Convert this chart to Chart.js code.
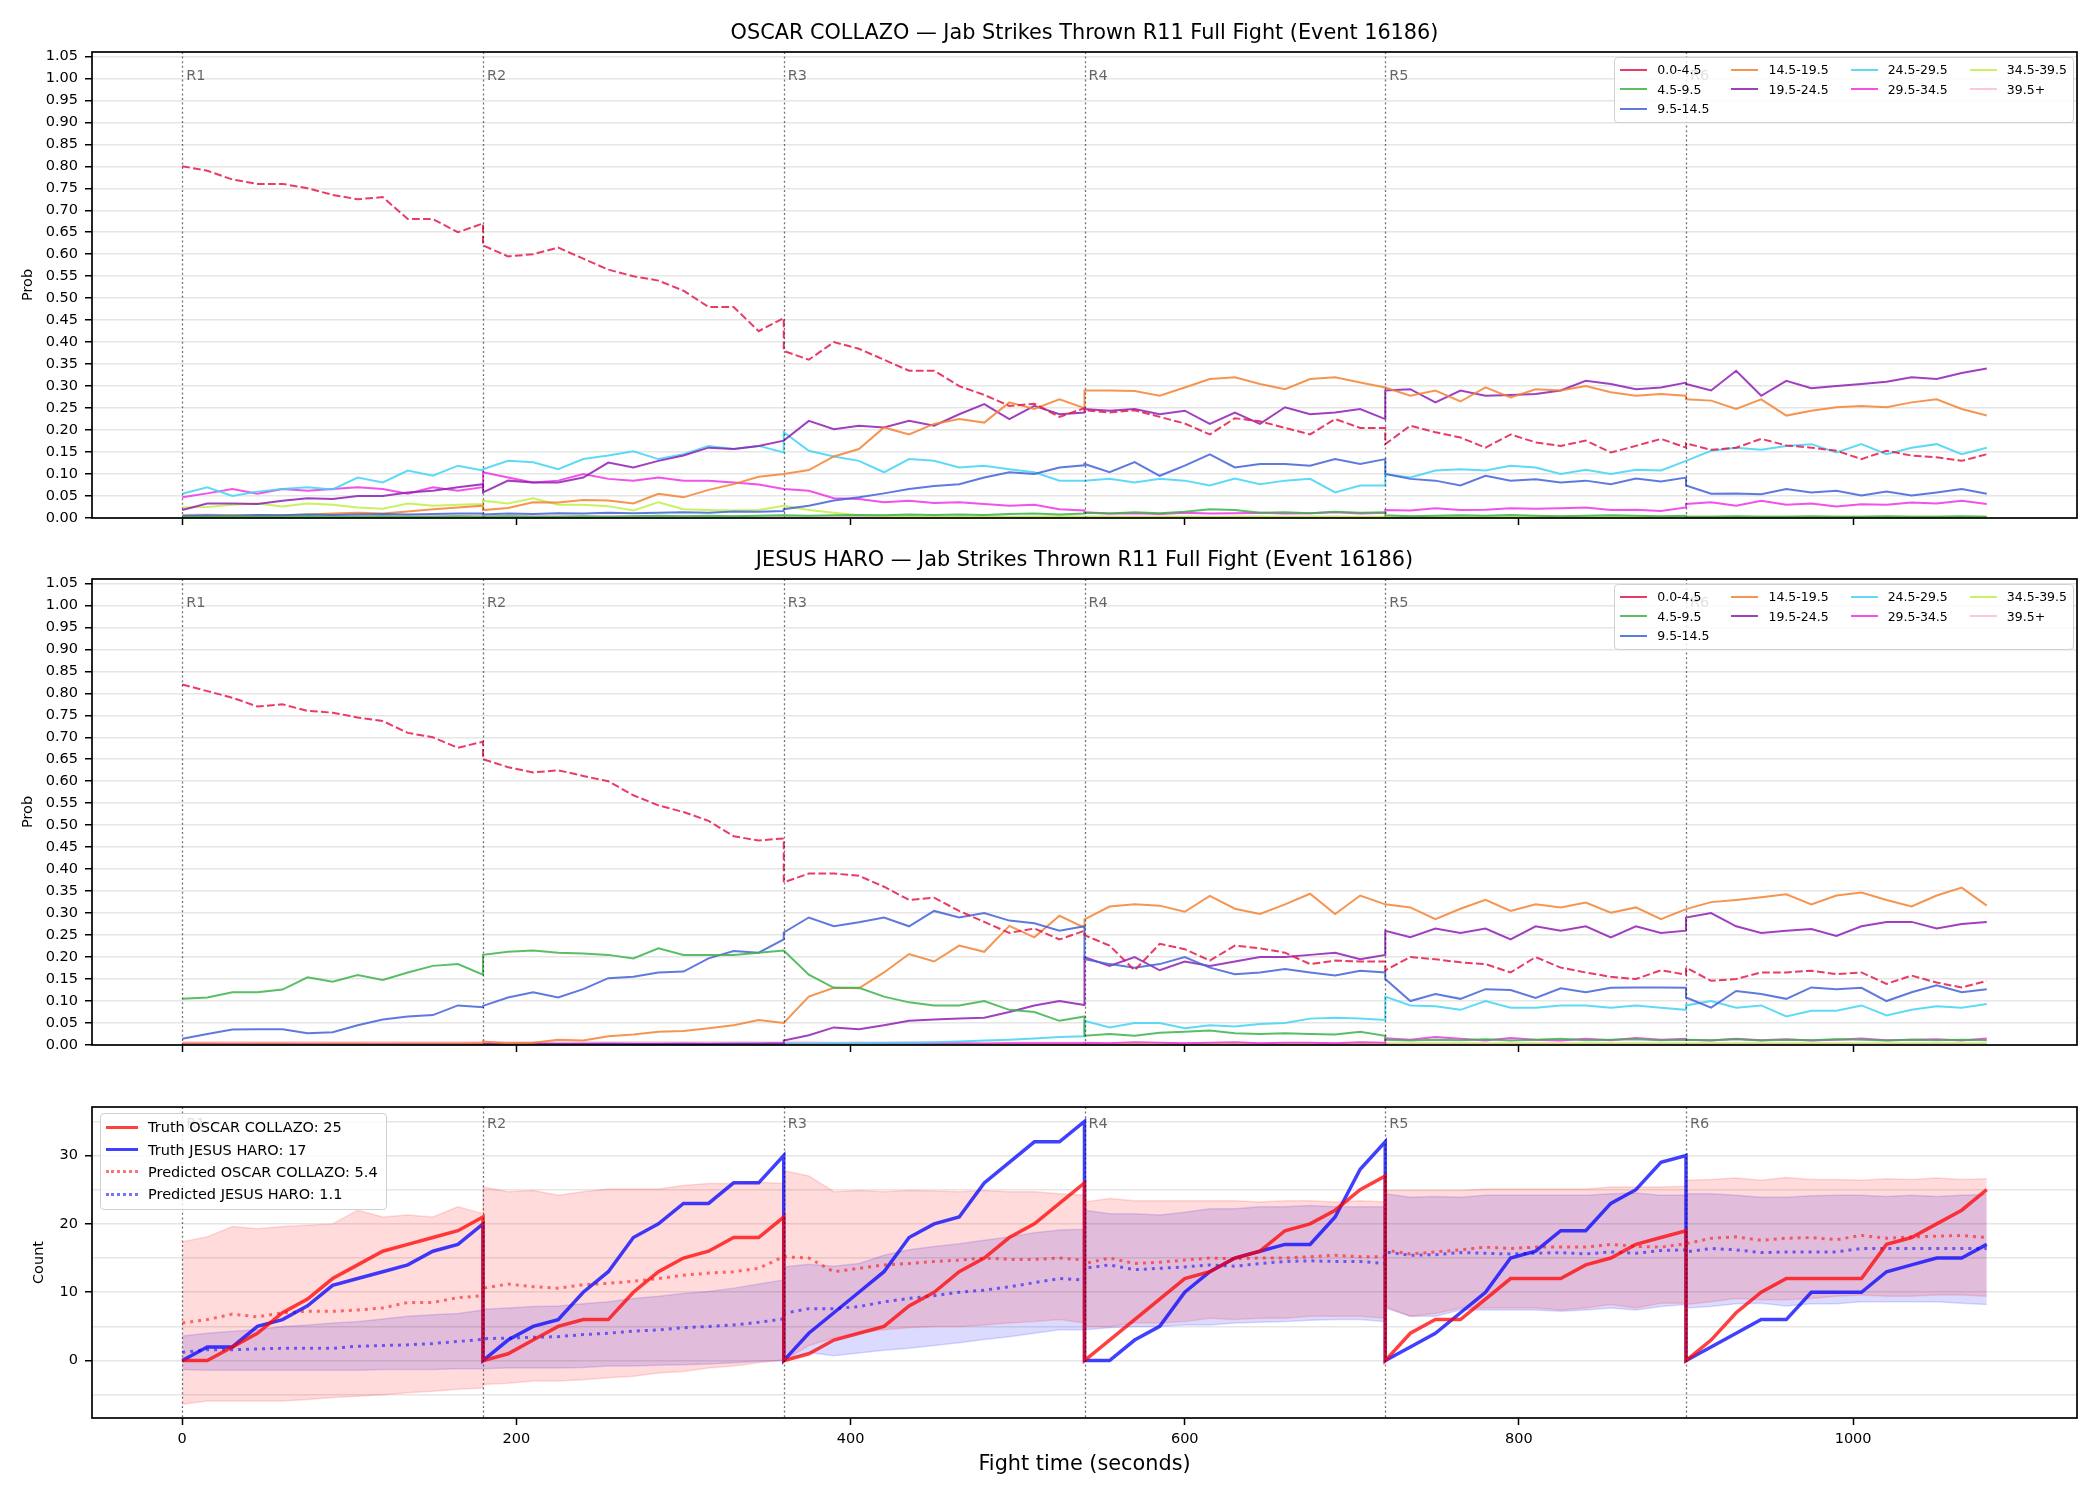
<!DOCTYPE html>
<html lang="en">
<head>
<meta charset="UTF-8">
<title>Jab Strikes Thrown R11 Full Fight</title>
<script src="https://cdn.jsdelivr.net/npm/chart.js@4.4.1/dist/chart.umd.min.js"></script>
<style>
  body { margin: 0; background: #fff; }
  #wrap { position: relative; width: 2100px; height: 1500px; font-family: 'DejaVu Sans', sans-serif; }
  #wrap canvas { position: absolute; left: 0; top: 0; }
  .legend { position: absolute; background: rgba(255,255,255,0.8); border: 1px solid #d0d0d0; border-radius: 4px; color: #000; }
  .binlegend { right: 26px; display: grid; grid-template-rows: repeat(3, 19.5px); column-gap: 22px; padding: 2px 6px 3px 5px; font-size: 12.5px; }
  .countlegend { left: 100px; top: 1113px; padding: 2px 8px 3px 5px; font-size: 14.5px; }
  .item { display: flex; align-items: center; white-space: nowrap; }
  .binlegend .item { height: 19.5px; }
  .countlegend .item { height: 22.4px; }
  .swatch { display: inline-block; margin-right: 10px; }
</style>
</head>
<body>
<div id="wrap">
  <canvas id="chartTop" width="2100" height="1500"></canvas>
  <canvas id="chartMid" width="2100" height="1500"></canvas>
  <canvas id="chartBottom" width="2100" height="1500"></canvas>
  <div id="legendTop" class="legend binlegend"></div>
  <div id="legendMid" class="legend binlegend"></div>
  <div id="legendBottom" class="legend countlegend"></div>
</div>
<script>
// time axis: each round sampled every 15 s, round ends repeated so the reset shows as a vertical step
const roundStarts = [0, 180, 360, 540, 720, 900];
const roundLabels = ['R1', 'R2', 'R3', 'R4', 'R5', 'R6'];
const sampleOffsets = [0, 15, 30, 45, 60, 75, 90, 105, 120, 135, 150, 165, 180];
const xTicks = [0, 200, 400, 600, 800, 1000];
const probTicks = [0, 0.05, 0.1, 0.15, 0.2, 0.25, 0.3, 0.35, 0.4, 0.45, 0.5, 0.55, 0.6, 0.65, 0.7, 0.75, 0.8, 0.85, 0.9, 0.95, 1, 1.05];
const countTicks = [-5, 0, 5, 10, 15, 20, 25, 30, 35];
const countLabelTicks = [0, 10, 20, 30];

const bins = ['0.0-4.5', '4.5-9.5', '9.5-14.5', '14.5-19.5', '19.5-24.5', '24.5-29.5', '29.5-34.5', '34.5-39.5', '39.5+'];
const binColors = ['rgba(230,25,75,0.85)', 'rgba(60,180,75,0.85)', 'rgba(67,99,216,0.85)', 'rgba(245,130,49,0.85)',
  'rgba(145,30,180,0.85)', 'rgba(66,212,244,0.85)', 'rgba(240,50,230,0.85)', 'rgba(191,239,69,0.85)', 'rgba(250,190,212,0.85)'];

// OSCAR COLLAZO probabilities per bin (one row per round)
const ocBin0 = [
  0.80, 0.79, 0.77, 0.76, 0.76, 0.75, 0.735, 0.725, 0.73, 0.68, 0.68, 0.65, 0.67,
  0.62, 0.595, 0.60, 0.615, 0.59, 0.565, 0.55, 0.54, 0.517, 0.48, 0.48, 0.425, 0.455,
  0.38, 0.36, 0.40, 0.385, 0.36, 0.335, 0.335, 0.30, 0.28, 0.255, 0.26, 0.23, 0.25,
  0.245, 0.24, 0.245, 0.23, 0.215, 0.19, 0.227, 0.22, 0.205, 0.19, 0.225, 0.205, 0.205,
  0.168, 0.21, 0.195, 0.183, 0.16, 0.19, 0.172, 0.164, 0.176, 0.149, 0.164, 0.18, 0.16,
  0.17, 0.155, 0.16, 0.18, 0.165, 0.16, 0.153, 0.134, 0.153, 0.142, 0.138, 0.13, 0.145];
const ocBin1 = [
  0.003, 0.003, 0.004, 0.003, 0.003, 0.004, 0.003, 0.003, 0.004, 0.003, 0.003, 0.004, 0.003,
  0.003, 0.004, 0.003, 0.003, 0.004, 0.003, 0.004, 0.005, 0.004, 0.005, 0.004, 0.005, 0.006,
  0.006, 0.005, 0.006, 0.007, 0.006, 0.008, 0.007, 0.008, 0.007, 0.009, 0.010, 0.008, 0.010,
  0.012, 0.010, 0.013, 0.011, 0.014, 0.020, 0.018, 0.012, 0.013, 0.011, 0.014, 0.012, 0.013,
  0.006, 0.004, 0.005, 0.006, 0.005, 0.007, 0.005, 0.004, 0.005, 0.006, 0.005, 0.004, 0.005,
  0.003, 0.003, 0.004, 0.003, 0.003, 0.004, 0.003, 0.003, 0.004, 0.003, 0.003, 0.004, 0.003];
const ocBin2 = [
  0.005, 0.006, 0.005, 0.007, 0.006, 0.008, 0.007, 0.008, 0.009, 0.008, 0.009, 0.010, 0.010,
  0.008, 0.010, 0.009, 0.011, 0.010, 0.012, 0.011, 0.012, 0.013, 0.012, 0.015, 0.014, 0.016,
  0.020, 0.028, 0.040, 0.047, 0.056, 0.066, 0.073, 0.077, 0.092, 0.104, 0.100, 0.115, 0.120,
  0.123, 0.104, 0.127, 0.096, 0.119, 0.145, 0.115, 0.123, 0.123, 0.119, 0.134, 0.123, 0.134,
  0.100, 0.089, 0.085, 0.074, 0.096, 0.085, 0.088, 0.081, 0.085, 0.077, 0.090, 0.083, 0.092,
  0.074, 0.055, 0.056, 0.054, 0.066, 0.058, 0.062, 0.051, 0.060, 0.051, 0.058, 0.066, 0.055];
const ocBin3 = [
  0.005, 0.005, 0.006, 0.005, 0.006, 0.008, 0.010, 0.012, 0.010, 0.015, 0.020, 0.024, 0.028,
  0.018, 0.023, 0.036, 0.035, 0.041, 0.040, 0.033, 0.055, 0.047, 0.064, 0.077, 0.094, 0.100,
  0.100, 0.109, 0.140, 0.157, 0.206, 0.190, 0.214, 0.225, 0.217, 0.263, 0.248, 0.270, 0.250,
  0.290, 0.290, 0.289, 0.278, 0.297, 0.316, 0.320, 0.305, 0.293, 0.316, 0.320, 0.308, 0.297,
  0.297, 0.278, 0.290, 0.265, 0.297, 0.274, 0.293, 0.290, 0.300, 0.286, 0.278, 0.282, 0.278,
  0.270, 0.267, 0.248, 0.270, 0.233, 0.244, 0.252, 0.255, 0.252, 0.263, 0.270, 0.248, 0.233];
const ocBin4 = [
  0.018, 0.033, 0.033, 0.032, 0.039, 0.045, 0.043, 0.050, 0.050, 0.058, 0.062, 0.070, 0.077,
  0.058, 0.085, 0.081, 0.081, 0.092, 0.126, 0.115, 0.130, 0.142, 0.160, 0.157, 0.164, 0.176,
  0.176, 0.221, 0.202, 0.210, 0.206, 0.221, 0.210, 0.236, 0.259, 0.225, 0.255, 0.236, 0.240,
  0.248, 0.244, 0.248, 0.236, 0.244, 0.214, 0.240, 0.214, 0.252, 0.236, 0.240, 0.248, 0.225,
  0.290, 0.293, 0.263, 0.290, 0.278, 0.280, 0.282, 0.290, 0.312, 0.305, 0.293, 0.297, 0.308,
  0.305, 0.290, 0.335, 0.278, 0.312, 0.295, 0.300, 0.305, 0.310, 0.320, 0.316, 0.330, 0.340];
const ocBin5 = [
  0.055, 0.070, 0.050, 0.060, 0.066, 0.070, 0.065, 0.092, 0.081, 0.108, 0.096, 0.119, 0.108,
  0.111, 0.130, 0.127, 0.111, 0.134, 0.142, 0.152, 0.134, 0.145, 0.164, 0.157, 0.164, 0.149,
  0.195, 0.153, 0.140, 0.130, 0.104, 0.134, 0.130, 0.115, 0.119, 0.111, 0.104, 0.085, 0.085,
  0.085, 0.089, 0.081, 0.089, 0.085, 0.074, 0.090, 0.077, 0.085, 0.089, 0.058, 0.074, 0.074,
  0.100, 0.092, 0.108, 0.111, 0.108, 0.119, 0.115, 0.100, 0.110, 0.100, 0.110, 0.108, 0.130,
  0.130, 0.153, 0.160, 0.155, 0.164, 0.168, 0.149, 0.168, 0.145, 0.160, 0.168, 0.145, 0.160];
const ocBin6 = [
  0.047, 0.056, 0.066, 0.055, 0.066, 0.062, 0.066, 0.070, 0.066, 0.055, 0.070, 0.062, 0.070,
  0.104, 0.092, 0.081, 0.085, 0.100, 0.089, 0.085, 0.092, 0.085, 0.085, 0.081, 0.076, 0.066,
  0.066, 0.062, 0.045, 0.043, 0.036, 0.039, 0.034, 0.036, 0.032, 0.028, 0.030, 0.020, 0.017,
  0.013, 0.010, 0.011, 0.009, 0.012, 0.010, 0.011, 0.012, 0.010, 0.011, 0.013, 0.010, 0.012,
  0.018, 0.017, 0.022, 0.018, 0.019, 0.022, 0.021, 0.022, 0.024, 0.018, 0.019, 0.016, 0.024,
  0.032, 0.036, 0.028, 0.039, 0.030, 0.033, 0.026, 0.031, 0.030, 0.035, 0.033, 0.039, 0.032];
const ocBin7 = [
  0.024, 0.025, 0.030, 0.033, 0.026, 0.033, 0.030, 0.024, 0.021, 0.033, 0.028, 0.030, 0.032,
  0.039, 0.033, 0.045, 0.030, 0.030, 0.027, 0.017, 0.036, 0.020, 0.018, 0.017, 0.018, 0.028,
  0.028, 0.018, 0.012, 0.006, 0.005, 0.004, 0.004, 0.003, 0.004, 0.003, 0.003, 0.004, 0.003,
  0.003, 0.003, 0.002, 0.003, 0.003, 0.002, 0.003, 0.003, 0.002, 0.003, 0.003, 0.002, 0.003,
  0.003, 0.003, 0.002, 0.003, 0.003, 0.002, 0.003, 0.003, 0.002, 0.003, 0.003, 0.002, 0.003,
  0.003, 0.003, 0.002, 0.003, 0.003, 0.002, 0.003, 0.003, 0.002, 0.003, 0.003, 0.002, 0.003];
const ocBin8 = [
  0.007, 0.008, 0.006, 0.007, 0.006, 0.005, 0.006, 0.005, 0.005, 0.006, 0.005, 0.005, 0.006,
  0.005, 0.004, 0.005, 0.004, 0.004, 0.005, 0.004, 0.004, 0.004, 0.003, 0.004, 0.003, 0.004,
  0.003, 0.003, 0.003, 0.003, 0.003, 0.003, 0.003, 0.003, 0.003, 0.003, 0.003, 0.003, 0.003,
  0.003, 0.003, 0.003, 0.003, 0.003, 0.003, 0.003, 0.003, 0.003, 0.003, 0.003, 0.003, 0.003,
  0.003, 0.003, 0.003, 0.003, 0.003, 0.003, 0.003, 0.003, 0.003, 0.003, 0.003, 0.003, 0.003,
  0.003, 0.003, 0.003, 0.003, 0.003, 0.003, 0.003, 0.003, 0.003, 0.003, 0.003, 0.003, 0.003];

// JESUS HARO probabilities per bin
const jhBin0 = [
  0.82, 0.805, 0.79, 0.77, 0.775, 0.76, 0.756, 0.745, 0.737, 0.71, 0.70, 0.676, 0.69,
  0.65, 0.632, 0.62, 0.625, 0.612, 0.60, 0.568, 0.545, 0.53, 0.51, 0.475, 0.465, 0.47,
  0.37, 0.39, 0.39, 0.385, 0.36, 0.33, 0.335, 0.305, 0.28, 0.255, 0.265, 0.24, 0.26,
  0.25, 0.226, 0.17, 0.23, 0.218, 0.192, 0.226, 0.22, 0.21, 0.184, 0.192, 0.19, 0.19,
  0.17, 0.20, 0.195, 0.188, 0.184, 0.165, 0.20, 0.176, 0.165, 0.155, 0.15, 0.17, 0.16,
  0.176, 0.146, 0.15, 0.165, 0.165, 0.169, 0.161, 0.165, 0.139, 0.158, 0.142, 0.131, 0.146];
const jhBin1 = [
  0.105, 0.108, 0.120, 0.120, 0.126, 0.154, 0.144, 0.159, 0.148, 0.165, 0.180, 0.184, 0.160,
  0.205, 0.212, 0.215, 0.210, 0.208, 0.205, 0.197, 0.220, 0.205, 0.205, 0.205, 0.210, 0.215,
  0.215, 0.160, 0.130, 0.130, 0.110, 0.097, 0.090, 0.090, 0.100, 0.080, 0.075, 0.055, 0.065,
  0.021, 0.025, 0.021, 0.028, 0.030, 0.033, 0.027, 0.025, 0.027, 0.025, 0.024, 0.030, 0.021,
  0.012, 0.010, 0.012, 0.011, 0.013, 0.010, 0.012, 0.014, 0.011, 0.012, 0.013, 0.011, 0.012,
  0.012, 0.011, 0.013, 0.010, 0.012, 0.011, 0.013, 0.012, 0.010, 0.012, 0.011, 0.012, 0.011];
const jhBin2 = [
  0.014, 0.025, 0.035, 0.036, 0.036, 0.027, 0.029, 0.045, 0.058, 0.065, 0.068, 0.090, 0.086,
  0.089, 0.108, 0.120, 0.108, 0.127, 0.152, 0.155, 0.165, 0.167, 0.197, 0.214, 0.210, 0.240,
  0.256, 0.290, 0.270, 0.279, 0.290, 0.270, 0.305, 0.290, 0.300, 0.283, 0.277, 0.260, 0.270,
  0.195, 0.184, 0.176, 0.184, 0.200, 0.176, 0.161, 0.165, 0.173, 0.165, 0.158, 0.169, 0.165,
  0.150, 0.100, 0.116, 0.105, 0.127, 0.125, 0.107, 0.129, 0.120, 0.130, 0.131, 0.131, 0.130,
  0.108, 0.085, 0.123, 0.116, 0.105, 0.131, 0.127, 0.130, 0.100, 0.120, 0.136, 0.120, 0.127];
const jhBin3 = [
  0.003, 0.003, 0.002, 0.003, 0.003, 0.002, 0.003, 0.003, 0.002, 0.003, 0.003, 0.003, 0.004,
  0.008, 0.004, 0.005, 0.012, 0.010, 0.020, 0.024, 0.030, 0.032, 0.038, 0.045, 0.057, 0.050,
  0.050, 0.110, 0.130, 0.129, 0.165, 0.207, 0.190, 0.226, 0.212, 0.271, 0.245, 0.294, 0.267,
  0.286, 0.315, 0.320, 0.317, 0.303, 0.339, 0.310, 0.298, 0.320, 0.344, 0.298, 0.340, 0.320,
  0.320, 0.313, 0.286, 0.310, 0.330, 0.305, 0.320, 0.313, 0.324, 0.301, 0.313, 0.286, 0.309,
  0.309, 0.325, 0.330, 0.336, 0.343, 0.320, 0.340, 0.347, 0.330, 0.315, 0.340, 0.358, 0.317];
const jhBin4 = [
  0.002, 0.002, 0.002, 0.002, 0.002, 0.002, 0.002, 0.002, 0.002, 0.002, 0.002, 0.002, 0.002,
  0.002, 0.002, 0.003, 0.002, 0.002, 0.003, 0.002, 0.002, 0.003, 0.002, 0.003, 0.003, 0.004,
  0.010, 0.022, 0.040, 0.036, 0.045, 0.055, 0.058, 0.060, 0.062, 0.075, 0.090, 0.100, 0.091,
  0.200, 0.180, 0.200, 0.170, 0.190, 0.180, 0.190, 0.200, 0.200, 0.205, 0.210, 0.195, 0.205,
  0.260, 0.245, 0.265, 0.255, 0.265, 0.240, 0.270, 0.260, 0.270, 0.245, 0.270, 0.255, 0.260,
  0.290, 0.300, 0.270, 0.255, 0.260, 0.264, 0.248, 0.270, 0.280, 0.280, 0.265, 0.275, 0.280];
const jhBin5 = [
  0.002, 0.002, 0.002, 0.002, 0.002, 0.002, 0.002, 0.002, 0.002, 0.002, 0.002, 0.002, 0.002,
  0.002, 0.002, 0.002, 0.002, 0.002, 0.002, 0.002, 0.002, 0.002, 0.002, 0.003, 0.003, 0.003,
  0.003, 0.003, 0.004, 0.004, 0.005, 0.005, 0.006, 0.008, 0.010, 0.012, 0.015, 0.018, 0.020,
  0.055, 0.040, 0.050, 0.050, 0.038, 0.045, 0.042, 0.048, 0.050, 0.060, 0.062, 0.060, 0.057,
  0.110, 0.090, 0.088, 0.080, 0.100, 0.085, 0.085, 0.090, 0.090, 0.085, 0.090, 0.085, 0.080,
  0.090, 0.100, 0.085, 0.090, 0.065, 0.078, 0.078, 0.090, 0.067, 0.080, 0.088, 0.085, 0.093];
const jhBin6 = [
  0.003, 0.003, 0.003, 0.003, 0.003, 0.003, 0.003, 0.003, 0.003, 0.003, 0.003, 0.003, 0.003,
  0.003, 0.003, 0.003, 0.003, 0.003, 0.003, 0.003, 0.003, 0.003, 0.003, 0.003, 0.003, 0.003,
  0.003, 0.003, 0.003, 0.003, 0.003, 0.003, 0.003, 0.004, 0.003, 0.004, 0.004, 0.004, 0.004,
  0.005, 0.004, 0.006, 0.005, 0.004, 0.005, 0.006, 0.004, 0.005, 0.005, 0.004, 0.006, 0.005,
  0.015, 0.012, 0.018, 0.014, 0.010, 0.016, 0.012, 0.010, 0.014, 0.011, 0.016, 0.012, 0.014,
  0.012, 0.010, 0.014, 0.011, 0.013, 0.010, 0.012, 0.015, 0.011, 0.012, 0.013, 0.010, 0.015];
const jhBin7 = [
  0.002, 0.002, 0.002, 0.002, 0.002, 0.002, 0.002, 0.002, 0.002, 0.002, 0.002, 0.002, 0.002,
  0.002, 0.002, 0.002, 0.002, 0.002, 0.002, 0.002, 0.002, 0.002, 0.002, 0.002, 0.002, 0.002,
  0.002, 0.002, 0.002, 0.002, 0.002, 0.002, 0.002, 0.002, 0.002, 0.002, 0.002, 0.002, 0.002,
  0.002, 0.002, 0.002, 0.002, 0.002, 0.002, 0.002, 0.002, 0.002, 0.002, 0.002, 0.002, 0.002,
  0.002, 0.002, 0.002, 0.002, 0.002, 0.002, 0.002, 0.002, 0.002, 0.002, 0.002, 0.002, 0.002,
  0.002, 0.002, 0.002, 0.002, 0.002, 0.002, 0.002, 0.002, 0.002, 0.002, 0.002, 0.002, 0.002];
const jhBin8 = [
  0.006, 0.006, 0.006, 0.006, 0.006, 0.006, 0.006, 0.006, 0.006, 0.006, 0.006, 0.006, 0.006,
  0.006, 0.006, 0.006, 0.006, 0.006, 0.006, 0.006, 0.006, 0.006, 0.006, 0.006, 0.006, 0.006,
  0.006, 0.006, 0.005, 0.006, 0.005, 0.006, 0.005, 0.005, 0.005, 0.005, 0.005, 0.005, 0.005,
  0.004, 0.004, 0.004, 0.004, 0.004, 0.004, 0.004, 0.004, 0.004, 0.004, 0.004, 0.004, 0.004,
  0.004, 0.004, 0.004, 0.004, 0.004, 0.004, 0.004, 0.004, 0.004, 0.004, 0.004, 0.004, 0.004,
  0.004, 0.004, 0.004, 0.004, 0.004, 0.004, 0.004, 0.004, 0.004, 0.004, 0.004, 0.004, 0.004];

// cumulative counts per round (truth and predicted) with prediction bands
const truthCollazo = [
  0, 0, 2, 4, 7, 9, 12, 14, 16, 17, 18, 19, 21,
  0, 1, 3, 5, 6, 6, 10, 13, 15, 16, 18, 18, 21,
  0, 1, 3, 4, 5, 8, 10, 13, 15, 18, 20, 23, 26,
  0, 3, 6, 9, 12, 13, 15, 16, 19, 20, 22, 25, 27,
  0, 4, 6, 6, 9, 12, 12, 12, 14, 15, 17, 18, 19,
  0, 3, 7, 10, 12, 12, 12, 12, 17, 18, 20, 22, 25];
const truthHaro = [
  0, 2, 2, 5, 6, 8, 11, 12, 13, 14, 16, 17, 20,
  0, 3, 5, 6, 10, 13, 18, 20, 23, 23, 26, 26, 30,
  0, 4, 7, 10, 13, 18, 20, 21, 26, 29, 32, 32, 35,
  0, 0, 3, 5, 10, 13, 15, 16, 17, 17, 21, 28, 32,
  0, 2, 4, 7, 10, 15, 16, 19, 19, 23, 25, 29, 30,
  0, 2, 4, 6, 6, 10, 10, 10, 13, 14, 15, 15, 17];
const predCollazo = [
  5.5, 6.0, 6.8, 6.4, 7.0, 7.2, 7.2, 7.4, 7.7, 8.5, 8.5, 9.2, 9.5,
  10.6, 11.2, 10.8, 10.6, 11.1, 11.3, 11.6, 12.0, 12.5, 12.8, 13.0, 13.5, 15.2,
  15.2, 15.0, 13.0, 13.5, 14.0, 14.2, 14.5, 14.7, 15.0, 14.8, 14.8, 15.0, 14.7,
  14.2, 15.0, 14.2, 14.4, 14.7, 15.0, 14.9, 15.0, 15.0, 15.2, 15.4, 15.2, 15.2,
  16.2, 15.6, 15.9, 16.2, 16.6, 16.4, 16.6, 16.6, 16.6, 17.0, 16.7, 16.6, 17.1,
  17.1, 17.9, 18.1, 17.6, 17.9, 18.0, 17.7, 18.3, 17.9, 18.1, 18.2, 18.3, 18.0];
const predHaro = [
  1.2, 1.6, 1.6, 1.7, 1.8, 1.8, 1.8, 2.1, 2.2, 2.3, 2.5, 2.8, 3.1,
  3.2, 3.3, 3.4, 3.5, 3.8, 4.0, 4.3, 4.5, 4.8, 5.0, 5.2, 5.6, 6.1,
  6.9, 7.6, 7.6, 7.9, 8.6, 9.1, 9.5, 10.0, 10.3, 10.8, 11.4, 12.0, 11.8,
  13.5, 14.0, 13.3, 13.5, 13.7, 14.0, 13.8, 14.2, 14.5, 14.6, 14.5, 14.5, 14.2,
  15.9, 15.4, 15.5, 15.8, 15.7, 15.6, 15.7, 15.8, 15.6, 15.9, 15.7, 16.1, 16.2,
  15.9, 16.4, 16.2, 15.8, 15.9, 15.9, 15.9, 16.4, 16.4, 16.4, 16.4, 16.4, 16.4];
const bandCollazoHi = [
  17.4, 18.1, 19.6, 19.3, 19.6, 19.8, 20.0, 22.0, 21.0, 21.3, 21.0, 22.5, 21.5,
  25.4, 24.7, 24.9, 24.2, 24.7, 25.1, 25.1, 25.1, 25.6, 25.9, 25.9, 26.1, 25.9,
  27.8, 27.0, 24.7, 24.9, 24.7, 24.9, 24.8, 24.7, 24.9, 24.7, 24.7, 24.4, 24.2,
  23.2, 23.7, 23.4, 23.4, 23.4, 23.4, 23.4, 23.2, 23.4, 23.4, 23.2, 23.4, 23.2,
  24.9, 24.9, 24.9, 24.9, 25.1, 25.1, 25.1, 25.1, 25.1, 25.4, 25.4, 25.4, 25.5,
  26.4, 26.5, 26.7, 26.4, 26.8, 26.5, 26.5, 26.4, 26.6, 26.5, 26.7, 26.5, 26.6];
const bandCollazoLo = [
  -6.4, -5.9, -5.9, -5.9, -5.9, -5.7, -5.4, -5.2, -5.0, -4.7, -4.5, -4.2, -4.0,
  -3.5, -3.3, -3.0, -3.0, -2.8, -2.5, -2.3, -1.8, -1.6, -1.1, -0.8, -0.3, 0.1,
  0.0, 2.2, 3.3, 4.0, 4.5, 4.8, 5.0, 5.0, 5.2, 5.5, 5.7, 6.0, 5.5,
  5.0, 5.0, 5.5, 5.5, 5.7, 6.2, 6.0, 6.2, 6.2, 6.5, 6.5, 6.5, 6.2,
  7.9, 6.5, 6.9, 7.7, 7.7, 7.7, 7.7, 7.4, 7.7, 8.2, 7.7, 8.4, 8.4,
  8.2, 8.6, 9.1, 8.9, 8.9, 9.1, 9.4, 9.6, 9.4, 9.4, 9.6, 9.6, 9.4];
const bandHaroHi = [
  3.6, 4.0, 4.3, 4.5, 5.0, 5.2, 5.5, 5.7, 6.1, 6.5, 6.7, 6.9, 7.4,
  7.5, 7.7, 7.9, 8.0, 8.3, 8.6, 9.1, 9.4, 9.8, 10.1, 10.6, 11.2, 11.8,
  13.7, 14.1, 13.8, 14.2, 15.4, 16.2, 16.7, 17.1, 17.6, 18.1, 18.7, 19.1, 19.2,
  22.0, 21.5, 21.5, 21.3, 21.7, 22.2, 22.2, 22.5, 22.5, 22.7, 22.5, 22.5, 22.5,
  24.4, 23.9, 24.0, 23.9, 24.2, 24.2, 24.2, 24.2, 24.2, 24.4, 24.5, 24.2, 24.2,
  24.4, 24.4, 24.2, 23.9, 23.9, 24.1, 24.2, 24.2, 24.0, 24.2, 24.0, 24.2, 24.3];
const bandHaroLo = [
  -1.3, -1.4, -1.4, -1.4, -1.4, -1.4, -1.4, -1.4, -1.3, -1.3, -1.3, -1.2, -1.2,
  -1.2, -1.1, -1.1, -1.1, -1.0, -0.8, -0.8, -0.7, -0.6, -0.5, -0.3, -0.1, 0.0,
  0.0, 1.2, 0.7, 1.1, 1.5, 1.8, 2.2, 2.6, 3.1, 3.5, 4.0, 4.5, 4.5,
  4.5, 4.8, 5.0, 5.0, 5.2, 5.2, 5.5, 5.6, 5.7, 5.9, 6.0, 6.0, 5.7,
  7.7, 6.5, 6.5, 7.4, 7.4, 7.4, 7.4, 7.2, 7.4, 7.7, 7.4, 7.9, 8.2,
  7.7, 7.9, 8.3, 8.4, 8.0, 8.3, 8.3, 8.6, 8.6, 8.6, 8.6, 8.4, 8.2];

const fightTime = roundStarts.flatMap(r => sampleOffsets.map(o => r + o));
const pts = vals => vals.map((v, i) => ({ x: fightTime[i], y: v }));

Chart.defaults.font.family = "'DejaVu Sans', sans-serif";
Chart.defaults.color = '#000';

// round separators, round labels, panel frame and title
const roundMarks = {
  id: 'roundMarks',
  afterDatasetsDraw(chart, args, opts) {
    const { ctx, chartArea: a, scales: { x, y } } = chart;
    ctx.save();
    ctx.beginPath();
    ctx.rect(a.left, a.top, a.width, a.height);
    ctx.clip();
    ctx.strokeStyle = 'rgba(0,0,0,0.55)';
    ctx.lineWidth = 1.3;
    ctx.setLineDash([2, 2.6]);
    roundStarts.forEach(t => {
      const px = Math.round(x.getPixelForValue(t)) + 0.5;
      ctx.beginPath();
      ctx.moveTo(px, a.top);
      ctx.lineTo(px, a.bottom);
      ctx.stroke();
    });
    ctx.setLineDash([]);
    ctx.fillStyle = 'rgba(0,0,0,0.6)';
    ctx.font = "14.5px 'DejaVu Sans'";
    ctx.textBaseline = 'middle';
    roundStarts.forEach((t, i) => {
      ctx.fillText(roundLabels[i], x.getPixelForValue(t) + 4, y.getPixelForValue(opts.labelY));
    });
    ctx.restore();

    ctx.save();
    ctx.strokeStyle = '#000';
    ctx.lineWidth = 1.7;
    ctx.strokeRect(a.left, a.top, a.width, a.height);
    if (opts.title) {
      ctx.fillStyle = '#000';
      ctx.font = "20.8px 'DejaVu Sans'";
      ctx.textAlign = 'center';
      ctx.textBaseline = 'middle';
      ctx.fillText(opts.title, (a.left + a.right) / 2, a.top - 18);
    }
    ctx.restore();
  }
};

function xScale(height, showLabels, title) {
  return {
    type: 'linear', min: -54, max: 1134,
    afterBuildTicks: s => { s.ticks = xTicks.map(v => ({ value: v })); },
    afterFit: s => { s.height = height; },
    ticks: { callback: v => showLabels ? String(v) : '', font: { size: 14.5 }, padding: 6, maxRotation: 0 },
    grid: { drawOnChartArea: false, tickLength: 7, tickColor: '#000', tickWidth: 1.5 },
    border: { display: false },
    title: title ? { display: true, text: title, font: { size: 20.8 }, padding: { top: 0, bottom: 11 } } : { display: false }
  };
}

function probChart(canvasId, series, title, top) {
  const plotH = 466, axisH = 30;
  return new Chart(document.getElementById(canvasId), {
    type: 'line',
    data: {
      datasets: series.map((vals, i) => ({
        label: bins[i], data: pts(vals), borderColor: binColors[i], borderWidth: 2,
        borderDash: i === 0 ? [7.7, 3.3] : [], pointRadius: 0, tension: 0, fill: false
      }))
    },
    options: {
      responsive: false, animation: false, events: [],
      layout: { padding: { top: top, right: 23, left: 0, bottom: 1500 - top - plotH - axisH } },
      plugins: { legend: { display: false }, tooltip: { enabled: false }, roundMarks: { title: title, labelY: 1.005 } },
      scales: {
        x: xScale(axisH, false, null),
        y: {
          min: 0, max: 1.06,
          afterBuildTicks: s => { s.ticks = probTicks.map(v => ({ value: v })); },
          afterFit: s => { s.width = 92; },
          ticks: { callback: v => v.toFixed(2), font: { size: 14.5 }, padding: 7 },
          grid: { color: '#e6e6e6', lineWidth: 1.5, tickLength: 7, tickColor: '#000', tickWidth: 1.5 },
          border: { display: false },
          title: { display: true, text: 'Prob', font: { size: 14.5 }, padding: { top: 20, bottom: 0 } }
        }
      }
    },
    plugins: [roundMarks]
  });
}

probChart('chartTop', [ocBin0, ocBin1, ocBin2, ocBin3, ocBin4, ocBin5, ocBin6, ocBin7, ocBin8],
  'OSCAR COLLAZO \u2014 Jab Strikes Thrown R11 Full Fight (Event 16186)', 52);
probChart('chartMid', [jhBin0, jhBin1, jhBin2, jhBin3, jhBin4, jhBin5, jhBin6, jhBin7, jhBin8],
  'JESUS HARO \u2014 Jab Strikes Thrown R11 Full Fight (Event 16186)', 579);

const redLine = 'rgba(255,0,0,0.75)', blueLine = 'rgba(0,0,255,0.75)';
const redDot = 'rgba(255,0,0,0.55)', blueDot = 'rgba(0,0,255,0.55)';
const redBand = 'rgba(255,0,0,0.14)', blueBand = 'rgba(0,0,255,0.14)';
const countSeries = [
  { label: 'Truth OSCAR COLLAZO: 25', data: truthCollazo, color: redLine, width: 3.5, dash: [] },
  { label: 'Truth JESUS HARO: 17', data: truthHaro, color: blueLine, width: 3.5, dash: [] },
  { label: 'Predicted OSCAR COLLAZO: 5.4', data: predCollazo, color: redDot, width: 3, dash: [3, 5] },
  { label: 'Predicted JESUS HARO: 1.1', data: predHaro, color: blueDot, width: 3, dash: [3, 5] }
];

new Chart(document.getElementById('chartBottom'), {
  type: 'line',
  data: {
    datasets: countSeries.map(s => ({
      label: s.label, data: pts(s.data), borderColor: s.color, borderWidth: s.width,
      borderDash: s.dash, pointRadius: 0, tension: 0, fill: false
    })).concat([
      { label: 'bandA', data: pts(bandCollazoHi), borderColor: redBand, borderWidth: 1.5, backgroundColor: redBand, fill: 5, pointRadius: 0, tension: 0 },
      { label: 'bandA lo', data: pts(bandCollazoLo), borderColor: redBand, borderWidth: 1.5, pointRadius: 0, tension: 0, fill: false },
      { label: 'bandB', data: pts(bandHaroHi), borderColor: blueBand, borderWidth: 1.5, backgroundColor: blueBand, fill: 7, pointRadius: 0, tension: 0 },
      { label: 'bandB lo', data: pts(bandHaroLo), borderColor: blueBand, borderWidth: 1.5, pointRadius: 0, tension: 0, fill: false }
    ])
  },
  options: {
    responsive: false, animation: false, events: [],
    layout: { padding: { top: 1107, right: 23, left: 0, bottom: 12 } },
    plugins: { legend: { display: false }, tooltip: { enabled: false }, roundMarks: { title: null, labelY: 34.6 } },
    scales: {
      x: xScale(70, true, 'Fight time (seconds)'),
      y: {
        min: -8.4, max: 37.1,
        afterBuildTicks: s => { s.ticks = countTicks.map(v => ({ value: v })); },
        afterFit: s => { s.width = 92; },
        ticks: { callback: v => countLabelTicks.includes(v) ? String(v) : '', font: { size: 14.5 }, padding: 7 },
        grid: {
          color: '#e6e6e6', lineWidth: 1.5, tickLength: 7, tickWidth: 1.5,
          tickColor: c => countLabelTicks.includes(c.tick && c.tick.value) ? '#000' : 'rgba(0,0,0,0)'
        },
        border: { display: false },
        title: { display: true, text: 'Count', font: { size: 14.5 }, padding: { top: 31, bottom: 0 } }
      }
    }
  },
  plugins: [roundMarks]
});

// legends as real text boxes
function binLegend(id, top) {
  const box = document.getElementById(id);
  box.style.top = top + 'px';
  const colSizes = [3, 2, 2, 2];
  let i = 0;
  colSizes.forEach((n, c) => {
    for (let r = 0; r < n; r++, i++) {
      const item = document.createElement('div');
      item.className = 'item';
      item.style.gridColumn = c + 1;
      item.style.gridRow = r + 1;
      item.innerHTML = '<span class="swatch" style="width:27px;border-top:2px solid ' + binColors[i] + '"></span>' + bins[i];
      box.appendChild(item);
    }
  });
}
binLegend('legendTop', 57);
binLegend('legendMid', 584);

const countBox = document.getElementById('legendBottom');
countSeries.forEach(s => {
  const item = document.createElement('div');
  item.className = 'item';
  const style = s.dash.length ? '3px dotted ' + s.color : '3.5px solid ' + s.color;
  item.innerHTML = '<span class="swatch" style="width:32px;border-top:' + style + '"></span>' + s.label;
  countBox.appendChild(item);
});
</script>
</body>
</html>
